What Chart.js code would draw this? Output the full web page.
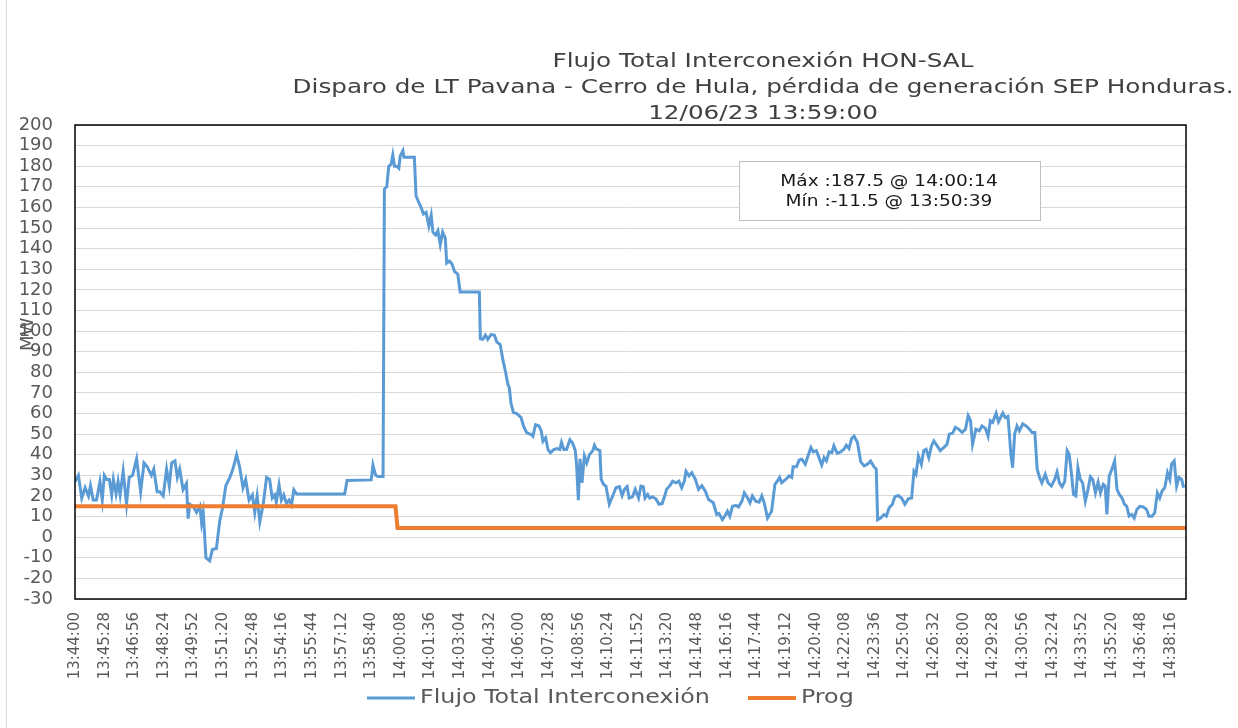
<!DOCTYPE html>
<html>
<head>
<meta charset="utf-8">
<script src="https://cdn.jsdelivr.net/npm/chart.js@4.4.1/dist/chart.umd.min.js"></script>
<style>
html, body { margin: 0; padding: 0; background: #fff; }
#wrap { width: 1238px; height: 728px; }
</style>
</head>
<body>
<div id="wrap"><canvas id="myChart" width="1238" height="728"></canvas></div>
<script>
const titleLines = [
  "Flujo Total Interconexión HON-SAL",
  "Disparo de LT Pavana - Cerro de Hula, pérdida de generación SEP Honduras.",
  "12/06/23 13:59:00"
];
const noteLines = ["Máx :187.5 @ 14:00:14", "Mín :-11.5 @ 13:50:39"];
const yTitle = "MW";

const tickLabels = [
  "13:44:00", "13:45:28", "13:46:56", "13:48:24", "13:49:52", "13:51:20", "13:52:48",
  "13:54:16", "13:55:44", "13:57:12", "13:58:40", "14:00:08", "14:01:36", "14:03:04",
  "14:04:32", "14:06:00", "14:07:28", "14:08:56", "14:10:24", "14:11:52", "14:13:20",
  "14:14:48", "14:16:16", "14:17:44", "14:19:12", "14:20:40", "14:22:08", "14:23:36",
  "14:25:04", "14:26:32", "14:28:00", "14:29:28", "14:30:56", "14:32:24", "14:33:52",
  "14:35:20", "14:36:48", "14:38:16"
];
const endTime = "14:39:00";

// seconds after 13:44:00
const flowTimes = [
  0,10,20,30,40,46,54,64,74,81, 87,94,102,109,114,122,128,134,143,153,
  161,171,183,195,205,215,227,234,244,252, 262,272,280,287,297,304,311,321,331,336,
  341,351,361,371,376,381,389,400,408,420, 430,438,448,460,470,480,489,499,507,517,
  527,534,541,549,559,569,578,
  586,593,598,606,613,620,628,636,643,650,658,801,808,880,885,893,900,915,
  919,926,932,939,944,949,956,962,966,974, 977,1008,1013,1021,1028,1035,1043,1051,1058,1063,
  1071,1078,1085,1092,1100,1104,1112,1120,1127,1137,1144,1201,
  1204,1211,1219,1226,1236,1246,1253,1263,1271,1279, 1286,1290,1295,1302,1312,1325,1332,1342,1355,1360,
  1368,1378,1385,1390,1398,1405,1412,1422,1432,1440, 1445,1452,1460,1470,1478,1486,1490,1495,1500,1506,
  1513,1520,1528,1538,1543,1549,1559,1563,1570,
  1577,1587,1597,1607,1617,1625,1632,1640,1646,1656, 1664,1674,1681,1688,1693,1701,1707,1715,1725,1735,
  1744,1753,1757,1767,1775,1785,1794,1802,1810,1815, 1824,1832,1843,1852,1862,1872,1882,1896,1906,1913,
  1923,1933,1938,1945,1953,1963,1971,1981,1988,1998, 2005,2012,2022,2032,2040,2047,2057,2069,2079,2086,
  2093,2099,2111,2121,2129,2133,2143,2151,
  2159,2169,2179,2186,2193,2202,2210,2218,2225,2232, 2240,2248,2254,2264,2274,2284,2291,2299,2307,2314,
  2324,2334,2344,2354,2363,2373,2380,2384,2393,2403, 2410,2418,2428,2435,2445,2455,2465,2475,2485,2492,
  2498,2505,2514,2521,2528,2536,2544,2551,2561,2570, 2580,2590,2597,2607,2615,2625,2635,2645,2653,2660,
  2666,2676,2686,2694,2704,2712,2719,2726,2736,2743,
  2756,2763,2771,2775,2780,2785,2791,2798,2805,2815, 2825,2835,2843,2851,2858,2865,2872,2882,2890,2900,
  2910,2917,2924,2932,2940,2947,2953,2959,2966,2973, 2979,2986,2993,3001,3009,3016,3023,3031,3039,3046,
  3054,3060,3065,3072,3080,3088,3095,3102,3110,3117, 3124,3131,3139,3146,3154,3163,3173,3183,3190,3199,
  3207,3215,3222,3229,3237,3245,3252,3257,3265,3272, 3279,3287,3293
];
const flowValues = [
  27,30,19,24,20,25,18,18,27,18, 30,28,28,20.5,28,21,27,20.5,32,16,
  29,30,38,22,36,34,30,33,22,22, 20,33,25,36,37,29,33,23,26,9,
  16,15,12,15,7,12,-10,-11.5,-6,-5.5, 8,14,25,29,33.5,40,34,24,28,18,
  20.5,12,20,7.5,16,29,28,
  19,20.5,17,25.4,18,20.5,16.4,18,15.6,23,21,21,27.5,27.8,35,30,29.4,29.4,
  169,170,180,181,185.5,180,180,179,185,187.5, 184.3,184.3,165.7,162.4,160,156.8,157.6,151,156.3,148,
  146.6,148.7,142,148,145,133,134,132.5,129,127.6,119,119,
  96.3,96,98,96,98.4,98,94.7,93.5,86,80, 74,72.5,65,60.6,60,58,54,50.6,49.8,49,
  54.6,54,51.4,46.5,48.2,42.5,41,42.5,43,42.5, 46,42.5,42.5,47.3,45.7,42,34.6,18,38,26.4,
  39.4,36,40,42,44.6,42.7,42,28,25.6,
  24.8,16,20,24,24.5,20.2,23.2,24.5,19,19.6, 23.2,19,24.8,24.5,19,20.7,19,19.6,18.6,16,
  16.3,20.7,23.2,25,27.2,26.4,27.2,24,27.2,32, 29.7,31.3,28,23.2,25,22.4,18.3,16.7,11,11.5,
  8.5,11,12.6,10.2,15,15.4,14.7,17.5,21.5,19, 16.7,20,17.5,17,20,16.7,9.3,12.6,25.6,27.2,
  29,26.4,28,29.7,29,34.2,34.2,37.4,
  37.8,35.4,40.2,43.5,41.4,42,38.6,35,38.6,37, 41.4,41,44.3,40.7,41.4,42.7,44.6,43,48,49,
  46,36.5,34.6,35.4,37,34.2,33,8.5,9.3,11, 10.2,14.2,16,19.6,20.2,19,16,18.6,19,32,
  30.5,39.4,35.4,42,42.7,38.6,44.3,46.7,44.3,42, 43.5,45,50,50.5,53.3,52.4,50.8,52.4,59,56.5,
  45,52.4,51.6,54,52.8,49,56.5,55.7,60.2,56,
  60.2,58,58.6,50.8,40,33.7,50,54,51.6,55, 54,52.4,50.8,50.8,33,29,26.4,30.5,26.4,24.8,
  28,31.6,26.4,24.5,27.2,42,40.2,32,20.7,20, 33.7,28,26.4,17.5,23.2,29.3,28,21.5,26.7,21.5,
  25.6,24.8,11,29.7,33,37,23.2,20.7,19,16, 15,10.2,11,9.3,13.4,15,14.7,13.4,10.2,10.2,
  11.8,21.5,19,22.4,24,31.3,28,35.4,37,24.8, 29,28,24
];

const progTimes = [0, 952, 958, 3300];
const progValues = [15, 15, 4.4, 4.4];

function toSec(s) {
  const p = s.split(":").map(Number);
  return p[0] * 3600 + p[1] * 60 + p[2];
}
const t0 = toSec(tickLabels[0]);
const tickValues = tickLabels.map(l => toSec(l) - t0);

const gray = "#595959";
const font = "'DejaVu Sans', sans-serif";

// text drawn a bit wider than the font, like the source picture
function wideText(c, text, x, y, sx) {
  c.save();
  c.translate(x, y);
  c.scale(sx, 1);
  c.fillText(text, 0, 0);
  c.restore();
}

const extras = {
  id: "extras",
  beforeDraw(chart) {
    const c = chart.ctx;
    c.save();
    c.fillStyle = "#fff";
    c.fillRect(0, 0, chart.width, chart.height);
    c.strokeStyle = "#d9d9d9";
    c.lineWidth = 1;
    c.beginPath();
    c.moveTo(6.5, 0);
    c.lineTo(6.5, chart.height);
    c.stroke();
    c.restore();
  },
  afterDraw(chart) {
    const c = chart.ctx;
    const a = chart.chartArea;
    c.save();
    // plot frame
    c.strokeStyle = "#000";
    c.lineWidth = 1.5;
    c.strokeRect(a.left, a.top, a.right - a.left, a.bottom - a.top);

    // titles
    c.fillStyle = "#404040";
    c.textAlign = "center";
    c.textBaseline = "middle";
    c.font = "19px " + font;
    titleLines.forEach((t, i) => wideText(c, t, 763, 62 + i * 26, 1.3));

    // max/min note
    c.fillStyle = "#fff";
    c.fillRect(739, 161, 301, 59);
    c.strokeStyle = "#bfbfbf";
    c.lineWidth = 1;
    c.strokeRect(739.5, 161.5, 301, 59);
    c.fillStyle = "#1a1a1a";
    c.font = "16px " + font;
    noteLines.forEach((t, i) => wideText(c, t, 889, 182 + i * 20, 1.16));

    // legend
    c.textAlign = "left";
    c.font = "20px " + font;
    let lx = 367;
    chart.data.datasets.forEach(ds => {
      c.strokeStyle = ds.borderColor;
      c.lineWidth = ds.borderWidth;
      c.beginPath();
      c.moveTo(lx, 698);
      c.lineTo(lx + 48, 698);
      c.stroke();
      c.fillStyle = gray;
      wideText(c, ds.label, lx + 53, 698, 1.19);
      lx += 53 + c.measureText(ds.label).width * 1.19 + 38;
    });

    // y axis title
    c.translate(28, 351);
    c.rotate(-Math.PI / 2);
    c.fillStyle = gray;
    c.font = "18px " + font;
    c.fillText(yTitle, 0, 0);
    c.restore();
  }
};

new Chart(document.getElementById("myChart"), {
  type: "line",
  data: {
    datasets: [{
      label: "Flujo Total Interconexión",
      data: flowTimes.map((t, i) => ({ x: t, y: flowValues[i] })),
      borderColor: "#5B9BD5",
      backgroundColor: "#5B9BD5",
      borderWidth: 3,
      pointRadius: 0,
      tension: 0,
      order: 1
    }, {
      label: "Prog",
      data: progTimes.map((t, i) => ({ x: t, y: progValues[i] })),
      borderColor: "#ED7D31",
      backgroundColor: "#ED7D31",
      borderWidth: 4,
      pointRadius: 0,
      tension: 0,
      order: 0
    }]
  },
  options: {
    responsive: false,
    animation: false,
    devicePixelRatio: 1,
    layout: { padding: { top: 125, right: 52, left: 0, bottom: 50 } },
    plugins: {
      title: { display: false },
      tooltip: { enabled: false },
      legend: { display: false }
    },
    scales: {
      x: {
        type: "linear",
        min: 0,
        max: toSec(endTime) - t0,
        grid: { display: false, drawTicks: false },
        border: { display: false },
        afterBuildTicks: s => { s.ticks = tickValues.map(v => ({ value: v })); },
        afterFit: s => { s.height = 79; },
        ticks: {
          autoSkip: false,
          minRotation: 90,
          maxRotation: 90,
          padding: 13,
          color: gray,
          font: { family: font, size: 15 },
          callback: (v, i) => tickLabels[i]
        }
      },
      y: {
        min: -30,
        max: 200,
        grid: { color: "#d9d9d9", drawTicks: false },
        border: { display: false },
        afterFit: s => { s.width = 75; },
        ticks: {
          stepSize: 10,
          autoSkip: false,
          padding: 22,
          color: gray,
          font: { family: font, size: 18 }
        }
      }
    }
  },
  plugins: [extras]
});
</script>
</body>
</html>
